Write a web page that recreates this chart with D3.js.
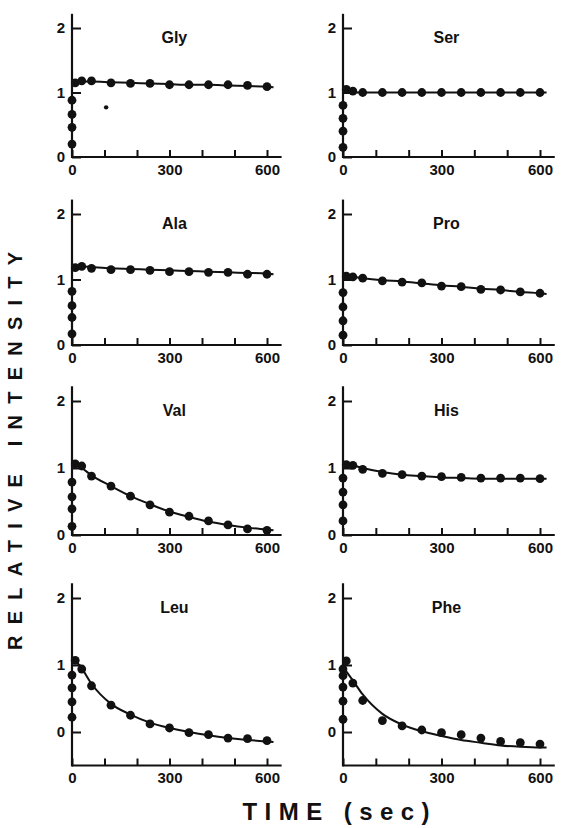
<!DOCTYPE html>
<html>
<head>
<meta charset="utf-8">
<script src="https://cdn.jsdelivr.net/npm/d3@7"></script>
<style>
  body { margin: 0; background: #fff; }
  text { font-family: "Liberation Sans", Arial, sans-serif; font-weight: bold; fill: #111; }
</style>
</head>
<body>
<div id="chart"></div>
<script>
// sample times (sec) for the measured points after the initial rise
var sampleTimes = [10, 30, 60, 120, 180, 240, 300, 360, 420, 480, 540, 600];
// times for the fitted curves
var fitTimes = [0, 30, 60, 120, 180, 240, 300, 360, 420, 480, 540, 600, 620];
var xTickValues = [0, 100, 200, 300, 400, 500, 600];
var xTickLabels = [0, 300, 600];
var yTickValues = [0, 1, 2];

// measured intensities
var glyPoints = [1.15, 1.18, 1.18, 1.15, 1.14, 1.14, 1.12, 1.12, 1.12, 1.12, 1.11, 1.09];
var serPoints = [1.05, 1.02, 1.0, 1.0, 1.0, 1.0, 1.0, 1.0, 1.0, 1.0, 1.0, 1.0];
var alaPoints = [1.18, 1.2, 1.17, 1.15, 1.15, 1.14, 1.12, 1.12, 1.11, 1.11, 1.08, 1.08];
var proPoints = [1.05, 1.04, 1.02, 0.98, 0.96, 0.95, 0.9, 0.89, 0.85, 0.84, 0.81, 0.79];
var valPoints = [1.06, 1.03, 0.88, 0.73, 0.58, 0.45, 0.34, 0.28, 0.21, 0.15, 0.09, 0.07];
var hisPoints = [1.05, 1.04, 0.98, 0.92, 0.9, 0.88, 0.87, 0.86, 0.85, 0.85, 0.85, 0.84];
var leuPoints = [1.07, 0.94, 0.69, 0.4, 0.25, 0.12, 0.06, -0.01, -0.04, -0.09, -0.1, -0.13];
var phePoints = [1.06, 0.73, 0.47, 0.17, 0.09, 0.03, -0.01, -0.04, -0.09, -0.14, -0.16, -0.18];

// initial rise, plotted on the time-zero axis
var glyRise = [0.2, 0.46, 0.66, 0.88];
var serRise = [0.15, 0.4, 0.6, 0.8];
var alaRise = [0.17, 0.42, 0.6, 0.82];
var proRise = [0.15, 0.37, 0.58, 0.8];
var valRise = [0.13, 0.39, 0.57, 0.79];
var hisRise = [0.21, 0.45, 0.64, 0.85];
var leuRise = [0.22, 0.45, 0.66, 0.85];
var pheRise = [0.19, 0.46, 0.67, 0.84, 0.94];

// fitted curves
var glyFit = [1.16, 1.17, 1.17, 1.16, 1.15, 1.14, 1.13, 1.12, 1.12, 1.11, 1.1, 1.09, 1.08];
var serFit = [1.03, 1.0, 1.0, 1.0, 1.0, 1.0, 1.0, 1.0, 1.0, 1.0, 1.0, 1.0, 1.0];
var alaFit = [1.2, 1.2, 1.19, 1.17, 1.16, 1.15, 1.14, 1.13, 1.12, 1.11, 1.1, 1.09, 1.08];
var proFit = [1.06, 1.04, 1.02, 0.99, 0.97, 0.94, 0.91, 0.89, 0.86, 0.84, 0.81, 0.79, 0.78];
var valFit = [1.08, 1.0, 0.89, 0.73, 0.58, 0.46, 0.35, 0.27, 0.2, 0.15, 0.11, 0.08, 0.07];
var hisFit = [1.08, 1.04, 1.0, 0.94, 0.9, 0.88, 0.86, 0.85, 0.84, 0.84, 0.84, 0.84, 0.84];
var leuFit = [1.12, 0.95, 0.72, 0.42, 0.26, 0.14, 0.06, 0.0, -0.05, -0.09, -0.12, -0.14, -0.15];
var pheFit = [0.97, 0.77, 0.56, 0.27, 0.11, 0.01, -0.06, -0.12, -0.16, -0.2, -0.22, -0.23, -0.23];

// stray speck in the Gly panel [time, intensity]
var glyStray = [[105, 0.77]];

var svgWidth = 563;
var svgHeight = 828;

// panel layout: column x of time 0 and pixel width of 0..600 s; row y of intensity 2 and 0
var cols = [{ x0: 72, w: 195 }, { x0: 343, w: 197 }];
var rows = [
  { y2: 28, y0: 157, bottom: 0 },
  { y2: 214, y0: 345, bottom: 0 },
  { y2: 401, y0: 535, bottom: 0 },
  { y2: 598, y0: 732, bottom: -0.5 }
];

var panels = [
  { name: "Gly", col: 0, row: 0, pts: glyPoints, rise: glyRise, fit: glyFit, extra: glyStray },
  { name: "Ser", col: 1, row: 0, pts: serPoints, rise: serRise, fit: serFit, extra: [] },
  { name: "Ala", col: 0, row: 1, pts: alaPoints, rise: alaRise, fit: alaFit, extra: [] },
  { name: "Pro", col: 1, row: 1, pts: proPoints, rise: proRise, fit: proFit, extra: [] },
  { name: "Val", col: 0, row: 2, pts: valPoints, rise: valRise, fit: valFit, extra: [] },
  { name: "His", col: 1, row: 2, pts: hisPoints, rise: hisRise, fit: hisFit, extra: [] },
  { name: "Leu", col: 0, row: 3, pts: leuPoints, rise: leuRise, fit: leuFit, extra: [] },
  { name: "Phe", col: 1, row: 3, pts: phePoints, rise: pheRise, fit: pheFit, extra: [] }
];

var svg = d3.select("#chart")
  .append("svg")
  .attr("width", svgWidth)
  .attr("height", svgHeight);

svg.append("rect")
  .attr("width", svgWidth)
  .attr("height", svgHeight)
  .attr("fill", "#fff");

panels.forEach(function(p) {
  var c = cols[p.col];
  var r = rows[p.row];

  var xScale = d3.scaleLinear()
    .domain([0, 600])
    .range([c.x0, c.x0 + c.w]);

  var yScale = d3.scaleLinear()
    .domain([0, 2])
    .range([r.y0, r.y2]);

  var g = svg.append("g");

  // axis lines
  g.append("line")
    .attr("x1", xScale(0)).attr("x2", xScale(0))
    .attr("y1", yScale(r.bottom) + 1).attr("y2", yScale(2.22))
    .attr("stroke", "#111").attr("stroke-width", 2.2);

  g.append("line")
    .attr("x1", xScale(0)).attr("x2", xScale(645))
    .attr("y1", yScale(r.bottom)).attr("y2", yScale(r.bottom))
    .attr("stroke", "#111").attr("stroke-width", 2.2);

  var bottomAxis = d3.axisBottom(xScale)
    .tickValues(xTickValues)
    .tickSize(-7)
    .tickPadding(7)
    .tickFormat(d => xTickLabels.indexOf(d) >= 0 ? d : "");

  var leftAxis = d3.axisLeft(yScale)
    .tickValues(yTickValues)
    .tickSize(-9)
    .tickPadding(7)
    .tickFormat(d3.format("d"));

  var xg = g.append("g")
    .attr("transform", `translate(0, ${yScale(r.bottom)})`)
    .call(bottomAxis);
  xg.select(".domain").remove();
  xg.selectAll(".tick line").attr("stroke", "#111").attr("stroke-width", 2);
  xg.selectAll(".tick text")
    .style("font-size", "15px")
    .style("font-family", "'Liberation Sans', Arial, sans-serif")
    .style("font-weight", "bold")
    .attr("fill", "#111");

  var yg = g.append("g")
    .attr("transform", `translate(${xScale(0)}, 0)`)
    .call(leftAxis);
  yg.select(".domain").remove();
  yg.selectAll(".tick line").attr("stroke", "#111").attr("stroke-width", 2);
  yg.selectAll(".tick text")
    .style("font-size", "15px")
    .style("font-family", "'Liberation Sans', Arial, sans-serif")
    .style("font-weight", "bold")
    .attr("fill", "#111");

  // panel title
  g.append("text")
    .attr("x", xScale(315))
    .attr("y", yScale(2) + 15)
    .attr("text-anchor", "middle")
    .style("font-size", "16px")
    .text(p.name);

  // fitted curve
  var fitData = fitTimes.map((t, i) => [t, p.fit[i]]);
  var line = d3.line()
    .x(d => xScale(d[0]))
    .y(d => yScale(d[1]))
    .curve(d3.curveMonotoneX);

  g.append("path")
    .datum(fitData)
    .attr("d", line)
    .attr("fill", "none")
    .attr("stroke", "#111")
    .attr("stroke-width", 2);

  // measured points
  var pointData = sampleTimes.map((t, i) => [t, p.pts[i]])
    .concat(p.rise.map(v => [0, v]));

  g.selectAll("circle.pt")
    .data(pointData)
    .enter()
    .append("circle")
    .classed("pt", true)
    .attr("cx", d => xScale(d[0]))
    .attr("cy", d => yScale(d[1]))
    .attr("r", 4.4)
    .attr("fill", "#111");

  g.selectAll("circle.speck")
    .data(p.extra)
    .enter()
    .append("circle")
    .classed("speck", true)
    .attr("cx", d => xScale(d[0]))
    .attr("cy", d => yScale(d[1]))
    .attr("r", 2.2)
    .attr("fill", "#111");
});

// axis titles
svg.append("text")
  .attr("transform", "translate(22, 451) rotate(-90)")
  .attr("text-anchor", "middle")
  .attr("textLength", 398)
  .attr("lengthAdjust", "spacing")
  .style("font-size", "20px")
  .text("RELATIVE INTENSITY");

svg.append("text")
  .attr("x", 336)
  .attr("y", 820)
  .attr("text-anchor", "middle")
  .attr("textLength", 187)
  .attr("lengthAdjust", "spacing")
  .style("font-size", "24px")
  .text("TIME (sec)");
</script>
</body>
</html>
